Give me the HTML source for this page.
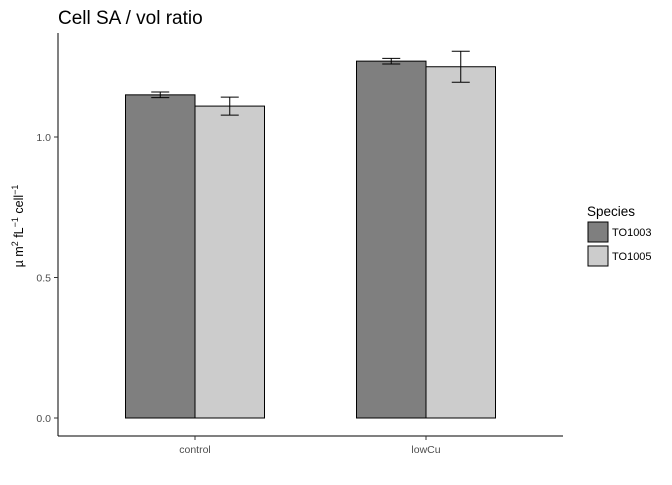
<!DOCTYPE html>
<html><head><meta charset="utf-8"><style>
body{margin:0;background:#fff;font-family:"Liberation Sans",sans-serif}
</style></head><body>
<svg id="c" width="672" height="480" xmlns="http://www.w3.org/2000/svg">
<text x="58" y="24" font-size="19" fill="#000">Cell SA / vol ratio</text>
<text transform="translate(23,226) rotate(-90)" text-anchor="middle" font-size="12.5">µ m<tspan dy="-5" font-size="9">2</tspan><tspan dy="5"> fL</tspan><tspan dy="-5" font-size="9">−1</tspan><tspan dy="5"> cell</tspan><tspan dy="-5" font-size="9">−1</tspan></text>
<g id="plot"></g>
<g>
<text x="587" y="216" font-size="13.5">Species</text>
<rect x="588" y="222" width="20" height="20" fill="#7f7f7f" stroke="#000"/>
<text x="612" y="236" font-size="11">TO1003</text>
<rect x="588" y="246" width="20" height="20" fill="#cccccc" stroke="#000"/>
<text x="612" y="260" font-size="11">TO1005</text>
</g>
</svg>
<script>
const categories=["control","lowCu"];
const seriesNames=["TO1003","TO1005"];
const values1003=[1.15,1.27];
const values1005=[1.11,1.25];
const err1003=[0.01,0.01];
const err1005=[0.032,0.055];
const yTicks=[0.0,0.5,1.0];
const yTickLabels=["0.0","0.5","1.0"];
const NS="http://www.w3.org/2000/svg";
const g=document.getElementById('plot');
const y=v=>418-v*281;
const xc=i=>195+i*231;
const colors=["#7f7f7f","#cccccc"];
function mk(t,a){const e=document.createElementNS(NS,t);for(const k in a)e.setAttribute(k,a[k]);g.appendChild(e);return e;}
let ax=mk('line',{x1:58,y1:33,x2:58,y2:436,stroke:'#000'});


ax=mk('line',{x1:58,y1:436,x2:563,y2:436,stroke:'#000'});


yTicks.forEach((v,i)=>{
 let t=mk('line',{x1:54,x2:58,y1:y(v),y2:y(v),stroke:'#333'});
 
 
 let l=mk('text',{x:51,y:y(v)+4,'text-anchor':'end','font-size':10.5,fill:'#4d4d4d'});
 l.textContent=yTickLabels[i];
 
 
});
categories.forEach((c,i)=>{
 let t=mk('line',{x1:xc(i),x2:xc(i),y1:436,y2:440,stroke:'#333'});
 
 
 let l=mk('text',{x:xc(i),y:453,'text-anchor':'middle','font-size':10.5,fill:'#4d4d4d'});
 l.textContent=c;
 
 
 [[values1003,err1003],[values1005,err1005]].forEach(([vals,errs],s)=>{
  const x0=xc(i)-69.5+s*69.5;
  let b=mk('rect',{x:x0,y:y(vals[i]),width:69.5,height:y(0)-y(vals[i]),fill:colors[s],stroke:'#000'});
  
  
  const cx=x0+34.75,hi=y(vals[i]+errs[i]),lo=y(vals[i]-errs[i]);
  let e=mk('path',{d:`M${cx-9},${hi}H${cx+9}M${cx},${hi}V${lo}M${cx-9},${lo}H${cx+9}`,stroke:'#000',fill:'none'});
  
  
 });
});
</script>
</body></html>
